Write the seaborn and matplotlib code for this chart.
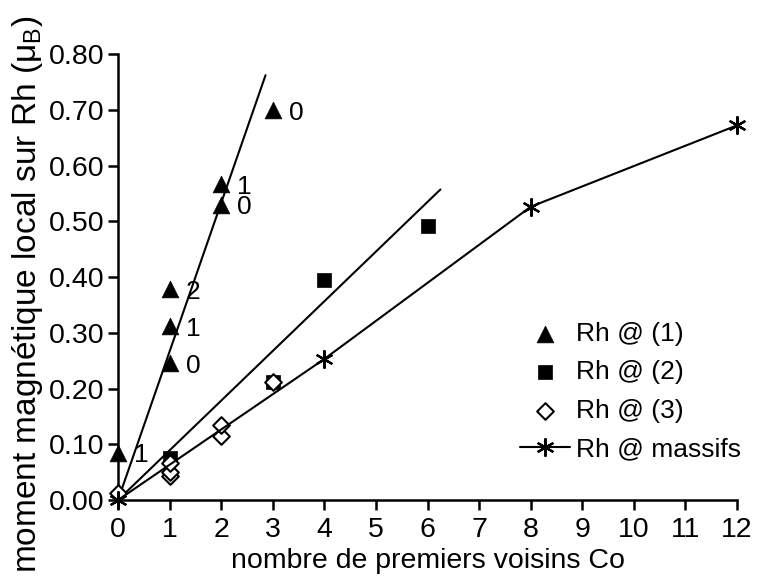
import matplotlib
matplotlib.use("Agg")
import matplotlib.pyplot as plt
import seaborn as sns
import pandas as pd
from matplotlib.ticker import FormatStrFormatter

# ---- data ----
rh1_x = [0, 1, 1, 1, 2, 2, 3]
rh1_y = [0.085, 0.245, 0.312, 0.378, 0.530, 0.567, 0.700]
rh1_lbl = ["1", "0", "1", "2", "0", "1", "0"]

rh2_x = [1, 3, 4, 6]
rh2_y = [0.075, 0.212, 0.394, 0.492]

rh3_x = [0, 1, 1, 1, 2, 2, 3]
rh3_y = [0.012, 0.043, 0.050, 0.066, 0.115, 0.135, 0.212]

bulk_x = [0, 4, 8, 12]
bulk_y = [0.0, 0.253, 0.526, 0.672]

fit1_x = [0, 2.86]
fit1_y = [0.0, 0.762]
fit2_x = [0, 6.25]
fit2_y = [0.0, 0.557]

series_names = ["Rh @ (1)", "Rh @ (2)", "Rh @ (3)", "Rh @ massifs"]
x_ticks = list(range(0, 13))
y_ticks = [0.0, 0.1, 0.2, 0.3, 0.4, 0.5, 0.6, 0.7, 0.8]

# ---- style ----
sns.set_theme(style="ticks")
plt.rcParams["font.family"] = ["Liberation Sans", "DejaVu Sans"]
plt.rcParams["mathtext.default"] = "regular"
FS_TICK = 20.5
FS_XLAB = 20.5
FS_YLAB = 24
FS_LEG = 19
FS_ANN = 19

fig = plt.figure(figsize=(7.58, 5.77), dpi=100)
ax = fig.add_axes([0.1557, 0.1334, 0.8166, 0.773])

lw = 1.5
# fitted lines
sns.lineplot(x=fit1_x, y=fit1_y, ax=ax, color="black", lw=lw, sort=False,
             estimator=None, zorder=2, clip_on=False)
sns.lineplot(x=fit2_x, y=fit2_y, ax=ax, color="black", lw=lw, sort=False,
             estimator=None, zorder=2, clip_on=False)

# bulk line with asterisks
sns.lineplot(x=bulk_x, y=bulk_y, ax=ax, color="black", lw=lw, marker=(6, 2, 0),
             markersize=13, markeredgewidth=1.6, markeredgecolor="black",
             estimator=None, label=series_names[3], zorder=5, clip_on=False)

sns.scatterplot(x=rh1_x, y=rh1_y, ax=ax, marker="^", s=145, color="black",
                edgecolor="black", linewidth=0.5, label=series_names[0],
                zorder=4, clip_on=False)
sns.scatterplot(x=rh2_x, y=rh2_y, ax=ax, marker="s", s=115, color="black",
                edgecolor="black", linewidth=0.5, label=series_names[1],
                zorder=3, clip_on=False)
sns.scatterplot(x=rh3_x, y=rh3_y, ax=ax, marker="D", s=72, color="white",
                edgecolor="black", linewidth=1.5, label=series_names[2],
                zorder=4, clip_on=False)

for xv, yv, t in zip(rh1_x, rh1_y, rh1_lbl):
    ax.annotate(t, (xv, yv), xytext=(11.5, -2), textcoords="offset points",
                ha="left", va="center", fontsize=FS_ANN, color="black")

ax.set_xlim(0, 12)
ax.set_ylim(0, 0.8)
ax.set_xticks(x_ticks)
ax.set_yticks(y_ticks)
ax.yaxis.set_major_formatter(FormatStrFormatter("%.2f"))
ax.tick_params(axis="both", direction="out", length=7, width=1.8,
               labelsize=FS_TICK, color="black", labelcolor="black")
ax.tick_params(axis="y", pad=3)
ax.tick_params(axis="x", pad=5)
for side in ["top", "right"]:
    ax.spines[side].set_visible(False)
for side in ["left", "bottom"]:
    ax.spines[side].set_linewidth(1.8)
    ax.spines[side].set_color("black")
ax.grid(False)
ax.set_facecolor("white")

ax.set_xlabel("nombre de premiers voisins Co", fontsize=FS_XLAB, color="black")
ax.xaxis.set_label_coords(0.5, -0.108)
ax.set_ylabel("moment magnétique local sur Rh (μ$_B$)", fontsize=FS_YLAB,
              color="black")
ax.yaxis.set_label_coords(-0.118, 0.46)

handles, labels = ax.get_legend_handles_labels()
order = [labels.index(n) for n in series_names]
leg = ax.legend([handles[i] for i in order], [labels[i] for i in order],
                loc="upper left", bbox_to_anchor=(0.649, 0.40), frameon=False,
                fontsize=FS_LEG, handlelength=1.9, handletextpad=0.25,
                labelspacing=0.55, borderpad=0, borderaxespad=0)
for t in leg.get_texts():
    t.set_color("black")

fig.savefig("out.png", dpi=100, facecolor="white")
